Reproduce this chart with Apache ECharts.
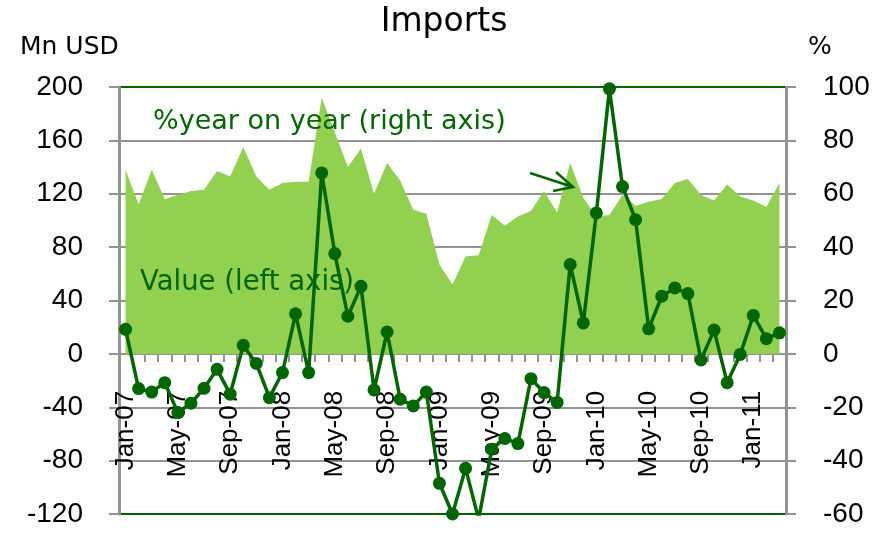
<!DOCTYPE html>
<html>
<head>
<meta charset="utf-8">
<script src="https://cdn.jsdelivr.net/npm/echarts@6/dist/echarts.min.js"></script>
<style>
  html, body { margin: 0; padding: 0; background: #fff; }
  #chart { width: 888px; height: 537px; }
</style>
</head>
<body>
<div id="chart"></div>
<script>
const months = [
  'Jan-07', 'Feb-07', 'Mar-07', 'Apr-07', 'May-07', 'Jun-07', 'Jul-07', 'Aug-07', 'Sep-07', 'Oct-07', 'Nov-07', 'Dec-07',
  'Jan-08', 'Feb-08', 'Mar-08', 'Apr-08', 'May-08', 'Jun-08', 'Jul-08', 'Aug-08', 'Sep-08', 'Oct-08', 'Nov-08', 'Dec-08',
  'Jan-09', 'Feb-09', 'Mar-09', 'Apr-09', 'May-09', 'Jun-09', 'Jul-09', 'Aug-09', 'Sep-09', 'Oct-09', 'Nov-09', 'Dec-09',
  'Jan-10', 'Feb-10', 'Mar-10', 'Apr-10', 'May-10', 'Jun-10', 'Jul-10', 'Aug-10', 'Sep-10', 'Oct-10', 'Nov-10', 'Dec-10',
  'Jan-11', 'Feb-11', 'Mar-11'
]

// import value, Mn USD (left axis)
const valueMn = [
  138, 112, 138, 116, 119, 122, 123, 137, 133, 155, 133, 123,
  128, 129, 129, 192, 166, 140, 154, 120, 143, 130, 108, 105,
  67, 52, 73, 74, 104, 96, 103, 107, 122, 106, 143, 117,
  103, 104, 119, 111, 114, 116, 128, 131, 119, 115, 127, 118,
  115, 110, 128
]

// % year on year (right axis)
const yoyPct = [
  9.2, -13, -14.3, -10.8, -22, -18.5, -12.9, -5.8, -15.1, 3.2, -3.6, -16.4,
  -7, 15, -7, 67.8, 37.6, 14.1, 25.3, -13.5, 8.2, -17, -19.5, -14.3,
  -48.5, -60, -42.9, -62, -35.7, -31.7, -33.6, -9.3, -14.5, -18.2, 33.5, 11.6,
  52.8, 99.3, 62.7, 50.3, 9.4, 21.6, 24.7, 22.6, -2.3, 8.9, -10.8, -0.2,
  14.4, 5.7, 7.9
]

const leftTicks = { min: -120, max: 200, step: 40 }
const rightTicks = { min: -60, max: 100, step: 20 }

const darkGreen = '#006600'
const gridGray = '#939393'
const numFont = 'Liberation Sans'

const gridBox = { left: 119, right: 102, top: 87, bottom: 23 }
const plotH = 537 - gridBox.top - gridBox.bottom
// the month axis sits on the zero line of the left axis
const zeroFromBottom = plotH * (0 - leftTicks.min) / (leftTicks.max - leftTicks.min)

const chart = echarts.init(document.getElementById('chart'))

// top and bottom grid lines are green like the plot border
const nSplit = (leftTicks.max - leftTicks.min) / leftTicks.step + 1
const splitColors = Array.from({ length: nSplit }, (_, i) =>
  i === 0 || i === nSplit - 1 ? darkGreen : gridGray)

const option = {
  animation: false,
  grid: { ...gridBox, outerBoundsMode: 'none', containLabel: false },
  graphic: [
    { type: 'text', left: 'center', top: 6, z: 100,
      style: { text: 'Imports', fontSize: 33, fontFamily: 'DejaVu Sans', fill: '#000' } },
    { type: 'text', x: 20, y: 35, z: 100,
      style: { text: 'Mn USD', fontSize: 25, fontFamily: 'DejaVu Sans', fill: '#000' } },
    { type: 'text', x: 808, y: 35, z: 100,
      style: { text: '%', fontSize: 25, fontFamily: 'DejaVu Sans', fill: '#000' } },
    { type: 'text', x: 153, y: 108, z: 100,
      style: { text: '%year on year (right axis)', fontSize: 27, fontFamily: 'DejaVu Sans', fill: darkGreen } },
    { type: 'text', x: 140, y: 269, z: 100,
      style: { text: 'Value (left axis)', fontSize: 27.5, fontFamily: 'DejaVu Sans', fill: darkGreen } },
    { type: 'polyline', z: 100, shape: { points: [[530, 173], [573, 187]] },
      style: { stroke: darkGreen, lineWidth: 2.5, fill: null } },
    { type: 'polyline', z: 100, shape: { points: [[556, 172], [573, 187], [553, 191]] },
      style: { stroke: darkGreen, lineWidth: 2.5, fill: null } }
  ],
  xAxis: {
    type: 'category',
    data: months,
    boundaryGap: true,
    offset: -zeroFromBottom,
    axisLine: { onZero: false, lineStyle: { color: gridGray, width: 2 } },
    axisTick: { show: true, interval: 0, length: 8, lineStyle: { color: gridGray, width: 2 } },
    axisLabel: {
      interval: 3, rotate: 90, margin: 37,
      color: '#000', fontSize: 26, fontFamily: numFont
    },
    splitLine: { show: false }
  },
  yAxis: [
    {
      type: 'value',
      min: leftTicks.min, max: leftTicks.max, interval: leftTicks.step,
      axisLine: { show: true, lineStyle: { color: gridGray, width: 3 } },
      axisTick: { show: true, length: 10, lineStyle: { color: gridGray, width: 2 } },
      axisLabel: { margin: 36, color: '#000', fontSize: 28, fontFamily: numFont },
      splitLine: { show: true, lineStyle: { color: splitColors, width: 2 } }
    },
    {
      type: 'value',
      min: rightTicks.min, max: rightTicks.max, interval: rightTicks.step,
      axisLine: { show: true, lineStyle: { color: gridGray, width: 3 } },
      axisTick: { show: true, length: 10, lineStyle: { color: gridGray, width: 2 } },
      axisLabel: { margin: 37, color: '#000', fontSize: 28, fontFamily: numFont },
      splitLine: { show: false }
    }
  ],
  series: [
    {
      name: 'Value (left axis)',
      type: 'line',
      yAxisIndex: 0,
      data: valueMn,
      symbol: 'none',
      lineStyle: { width: 0 },
      areaStyle: { color: '#92d050', opacity: 1 },
      z: 1
    },
    {
      name: '%year on year (right axis)',
      type: 'line',
      yAxisIndex: 1,
      data: yoyPct,
      symbol: 'circle',
      symbolSize: 13,
      showAllSymbol: true,
      lineStyle: { color: darkGreen, width: 3.5 },
      itemStyle: { color: darkGreen },
      z: 3
    }
  ]
}

chart.setOption(option)
window.addEventListener('resize', () => chart.resize())
</script>
</body>
</html>
